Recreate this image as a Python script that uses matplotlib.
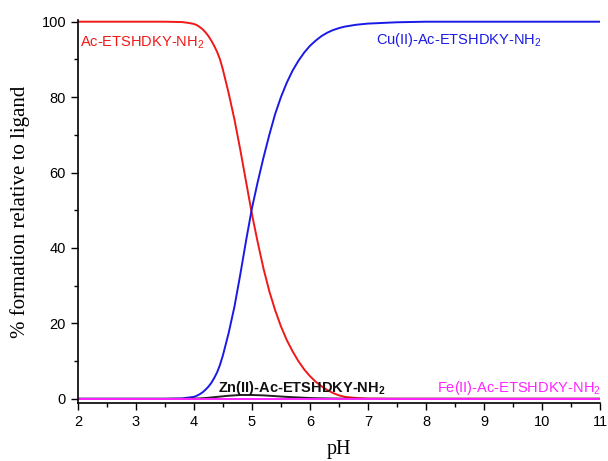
import matplotlib
matplotlib.use('Agg')
import matplotlib.pyplot as plt
from matplotlib.ticker import MultipleLocator

plt.rcParams['font.family'] = 'Liberation Sans'
plt.rcParams['mathtext.fontset'] = 'custom'
plt.rcParams['mathtext.rm'] = 'Liberation Sans'
plt.rcParams['mathtext.bf'] = 'Liberation Sans:bold'

# values
ph = [2, 3, 3.5, 3.8, 3.9, 4.0, 4.05, 4.1, 4.15, 4.2, 4.25, 4.3, 4.35, 4.4, 4.45,
      4.5, 4.6, 4.7, 4.8, 4.9, 5.0, 5.1, 5.2, 5.3, 5.4, 5.5, 5.6, 5.7, 5.8, 5.9,
      6.0, 6.1, 6.2, 6.3, 6.4, 6.5, 6.6, 6.8, 7.0, 7.5, 8, 9, 10, 11]
ligand = [100, 100, 100, 99.9, 99.7, 99.4, 99.1, 98.6, 98.0, 97.2, 96.2, 95.0,
          93.6, 92.0, 90.0, 87.3, 81.0, 74.0, 66.0, 57.5, 49.0, 41.5, 34.5, 28.5,
          23.5, 19.2, 15.6, 12.6, 10.0, 7.8, 6.0, 4.5, 3.3, 2.3, 1.5, 0.9, 0.5,
          0.2, 0.05, 0, 0, 0, 0, 0]
cu = [0, 0, 0, 0.1, 0.3, 0.5, 0.8, 1.2, 1.7, 2.4, 3.2, 4.2, 5.5, 7.0, 9.0, 11.5,
      17.5, 24.5, 33.0, 42.0, 50.5, 57.5, 64.0, 70.0, 75.5, 80.0, 83.8, 87.0,
      89.6, 91.8, 93.6, 95.0, 96.2, 97.1, 97.8, 98.3, 98.7, 99.2, 99.5, 99.85,
      100, 100, 100, 100]
zn = [0, 0, 0, 0, 0, 0.05, 0.07, 0.1, 0.15, 0.2, 0.27, 0.35, 0.42, 0.5, 0.57,
      0.65, 0.8, 0.9, 1.0, 1.0, 1.0, 0.95, 0.9, 0.8, 0.7, 0.6, 0.5, 0.42, 0.35,
      0.27, 0.2, 0.15, 0.12, 0.09, 0.07, 0.05, 0.03, 0.01, 0, 0, 0, 0, 0, 0]
fe = [0] * len(ph)

fig = plt.figure(figsize=(6.08, 4.61), dpi=100)
ax = fig.add_axes([0.128, 0.126, 0.859, 0.831])

ax.plot(ph, ligand, color='#f01818', lw=1.4)
ax.plot(ph, cu, color='#1a1ae6', lw=1.4)
ax.plot(ph, zn, color='#222222', lw=1.4)
ax.plot(ph, fe, color='#ff22ff', lw=1.4)

fs = 10.5
ax.text(2.03, 94.4, r'Ac-ETSHDKY-NH$_\mathrm{2}$', color='#f01818', fontsize=fs, va='center')
ax.text(7.14, 95.2, r'Cu(II)-Ac-ETSHDKY-NH$_\mathrm{2}$', color='#1a1ae6', fontsize=fs, va='center')
ax.text(4.41, 2.9, r'Zn(II)-Ac-ETSHDKY-NH$_\mathbf{2}$', color='#111111', fontsize=fs,
        fontweight='bold', va='center')
ax.text(8.19, 2.9, r'Fe(II)-Ac-ETSHDKY-NH$_\mathrm{2}$', color='#ff22ff', fontsize=fs, va='center')

ax.set_xlim(2, 11)
ax.set_ylim(-1.1, 100.5)
ax.xaxis.set_major_locator(MultipleLocator(1))
ax.xaxis.set_minor_locator(MultipleLocator(0.5))
ax.yaxis.set_major_locator(MultipleLocator(20))
ax.yaxis.set_minor_locator(MultipleLocator(10))
ax.tick_params(which='major', direction='out', length=5, width=1, labelsize=10.5)
ax.tick_params(which='minor', direction='out', length=3, width=1)

for s in ['top', 'right']:
    ax.spines[s].set_visible(False)
for s in ['left', 'bottom']:
    ax.spines[s].set_linewidth(1.2)

ax.set_xlabel('pH', fontfamily='Liberation Serif', fontsize=14.5, labelpad=8)
ax.set_ylabel('% formation relative to ligand', fontfamily='Liberation Serif',
              fontsize=15, labelpad=8)

fig.savefig('out.png', dpi=100)
